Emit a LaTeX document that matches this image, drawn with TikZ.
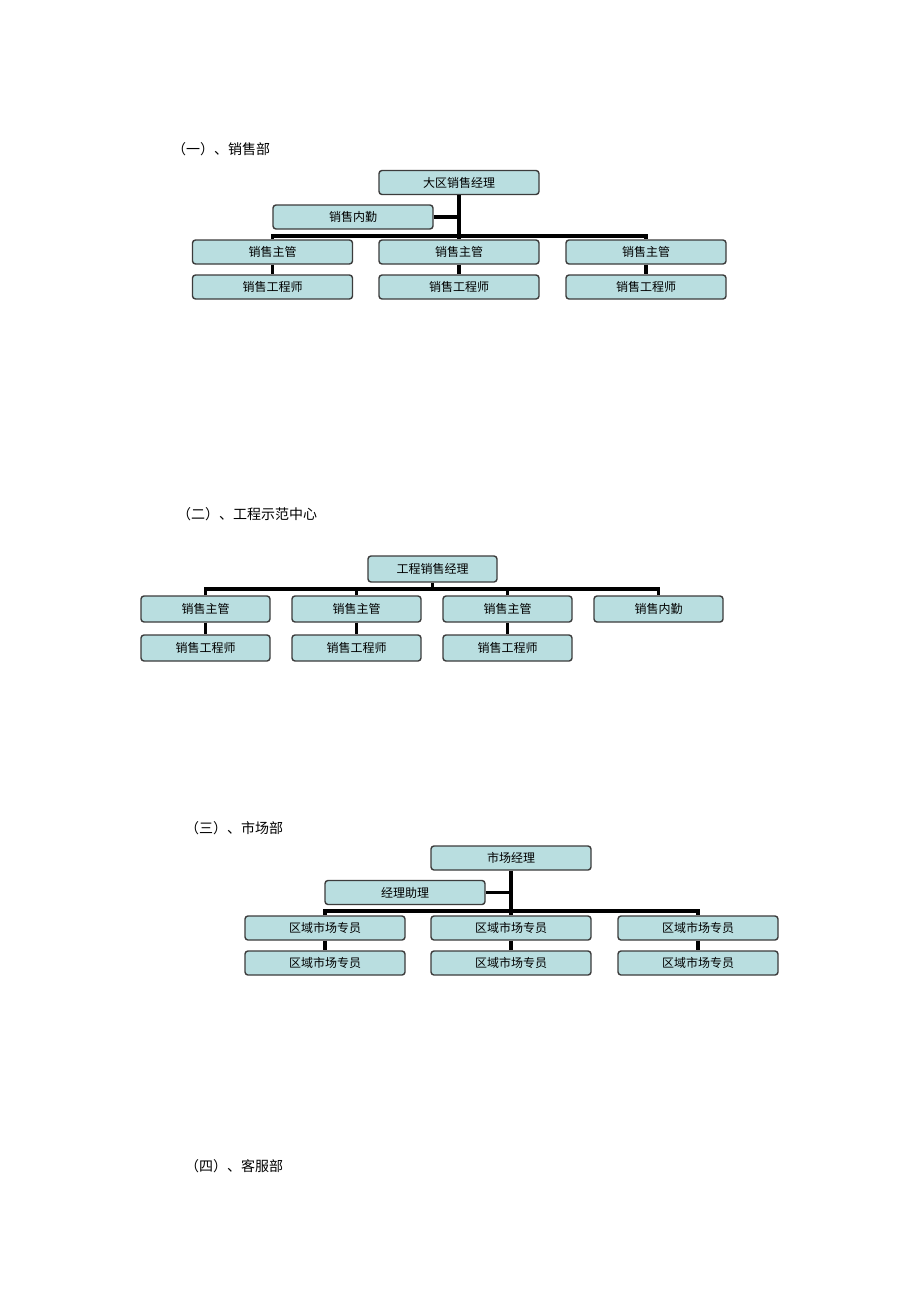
\documentclass[tikz,border=0pt]{standalone}
\usepackage{fontspec}
\setmainfont{Noto Sans CJK SC}
\definecolor{boxfill}{RGB}{185,222,224}
\definecolor{boxline}{RGB}{60,60,60}
\tikzset{
  orgbox/.style={draw=boxline, line width=1.4pt, fill=boxfill, rounded corners=3pt,
    minimum height=24pt, inner sep=0pt, font=\fontsize{12}{14}\selectfont},
  wbox/.style={orgbox, minimum width=160pt},
  nbox/.style={orgbox, minimum width=129pt, minimum height=26pt},
  conn/.style={draw=black, line width=3.2pt},
  title/.style={anchor=west, inner sep=0pt, font=\fontsize{14}{16}\selectfont}
}
\begin{document}
\begin{tikzpicture}[x=1pt,y=-1pt]
\useasboundingbox[fill=white] (0,0) rectangle (920,1303);

% ---------- Section 1 ----------
\node[title] (t1) at (172,149) {（一）、销售部};
\node[wbox] (m1) at (459,182.5) {大区销售经理};
\node[wbox] (n1) at (353,217) {销售内勤};
\node[wbox] (s1a) at (272.5,252) {销售主管};
\node[wbox] (s1b) at (459,252) {销售主管};
\node[wbox] (s1c) at (646,252) {销售主管};
\node[wbox] (e1a) at (272.5,287) {销售工程师};
\node[wbox] (e1b) at (459,287) {销售工程师};
\node[wbox] (e1c) at (646,287) {销售工程师};
\coordinate (bus1) at (459,236);
\draw[conn] (m1.south) -- (bus1);
\draw[conn] (n1.east) -| (bus1);
\draw[conn] (s1a.north) |- (bus1) -| (s1c.north);
\draw[conn] (bus1) -- (s1b.north);
\draw[conn] (s1a.south) -- (e1a.north);
\draw[conn] (s1b.south) -- (e1b.north);
\draw[conn] (s1c.south) -- (e1c.north);

% ---------- Section 2 ----------
\node[title] (t2) at (177,514) {（二）、工程示范中心};
\node[nbox] (m2) at (432.5,569) {工程销售经理};
\node[nbox] (s2a) at (205.5,609) {销售主管};
\node[nbox] (s2b) at (356.5,609) {销售主管};
\node[nbox] (s2c) at (507.5,609) {销售主管};
\node[nbox] (s2d) at (658.5,609) {销售内勤};
\node[nbox] (e2a) at (205.5,648) {销售工程师};
\node[nbox] (e2b) at (356.5,648) {销售工程师};
\node[nbox] (e2c) at (507.5,648) {销售工程师};
\coordinate (bus2) at (432.5,589);
\draw[conn] (m2.south) -- (bus2);
\draw[conn] (s2a.north) |- (bus2) -| (s2d.north);
\draw[conn] (s2b.north) -- (s2b.north |- bus2);
\draw[conn] (s2c.north) -- (s2c.north |- bus2);
\draw[conn] (s2a.south) -- (e2a.north);
\draw[conn] (s2b.south) -- (e2b.north);
\draw[conn] (s2c.south) -- (e2c.north);

% ---------- Section 3 ----------
\node[title] (t3) at (185,828) {（三）、市场部};
\node[wbox] (m3) at (511,858) {市场经理};
\node[wbox] (n3) at (405,892.5) {经理助理};
\node[wbox] (s3a) at (325,928) {区域市场专员};
\node[wbox] (s3b) at (511,928) {区域市场专员};
\node[wbox] (s3c) at (698,928) {区域市场专员};
\node[wbox] (e3a) at (325,963) {区域市场专员};
\node[wbox] (e3b) at (511,963) {区域市场专员};
\node[wbox] (e3c) at (698,963) {区域市场专员};
\coordinate (bus3) at (511,911);
\draw[conn] (m3.south) -- (bus3);
\draw[conn] (n3.east) -| (bus3);
\draw[conn] (s3a.north) |- (bus3) -| (s3c.north);
\draw[conn] (bus3) -- (s3b.north);
\draw[conn] (s3a.south) -- (e3a.north);
\draw[conn] (s3b.south) -- (e3b.north);
\draw[conn] (s3c.south) -- (e3c.north);

% ---------- Section 4 ----------
\node[title] (t4) at (185,1166) {（四）、客服部};
\end{tikzpicture}
\end{document}
